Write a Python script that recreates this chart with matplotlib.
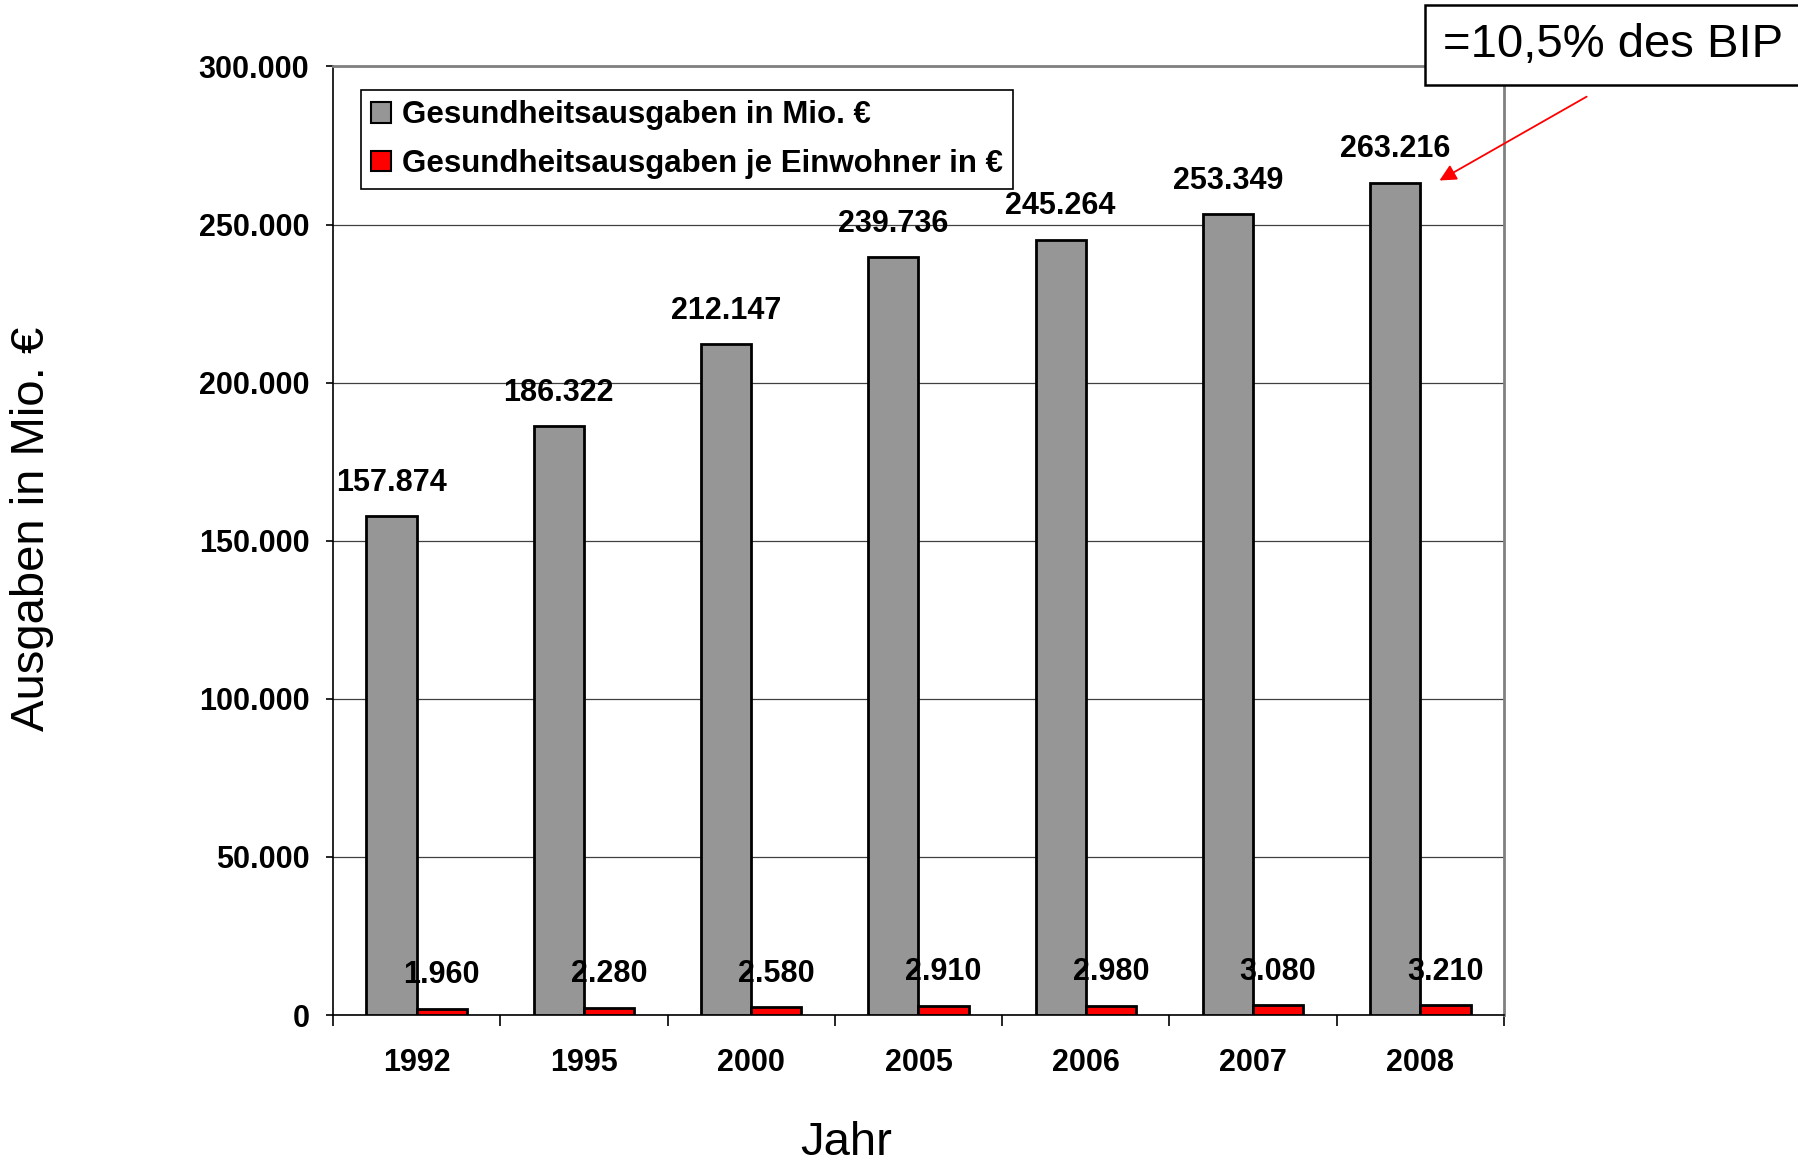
import numpy as np
import matplotlib.pyplot as plt
from matplotlib.patches import Patch

# Data
years = ['1992', '1995', '2000', '2005', '2006', '2007', '2008']
ausgaben_mio = [157874, 186322, 212147, 239736, 245264, 253349, 263216]
ausgaben_je_einwohner = [1960, 2280, 2580, 2910, 2980, 3080, 3210]
y_ticks = [0, 50000, 100000, 150000, 200000, 250000, 300000]
y_tick_labels = ['0', '50.000', '100.000', '150.000', '200.000', '250.000', '300.000']

def de_format(v):
    return f'{v:,}'.replace(',', '.')

plt.rcParams['font.family'] = ['Liberation Sans', 'DejaVu Sans']

fig = plt.figure(figsize=(17.99, 11.62), dpi=100)
ax = fig.add_axes([0.1851, 0.1265, 0.6509, 0.8163])

x = np.arange(len(years))
w = 0.3
gray = '#969696'
red = '#ff0000'

ax.bar(x - w / 2, ausgaben_mio, w, color=gray, edgecolor='black', linewidth=2, zorder=3)
ax.bar(x + w / 2, ausgaben_je_einwohner, w, color=red, edgecolor='black', linewidth=2, zorder=3)

# value labels
for xi, v in zip(x, ausgaben_mio):
    ax.annotate(de_format(v), (xi - w / 2, v), xytext=(0, 24), textcoords='offset points',
                ha='center', va='center', fontsize=22, fontweight='bold', zorder=5)
for xi, v in zip(x, ausgaben_je_einwohner):
    ax.annotate(de_format(v), (xi + w / 2, v), xytext=(0, 24), textcoords='offset points',
                ha='center', va='center', fontsize=22, fontweight='bold', zorder=5)

ax.set_xlim(-0.5, len(years) - 0.5)
ax.set_ylim(0, 300000)
ax.set_yticks(y_ticks)
ax.set_yticklabels(y_tick_labels, fontsize=22, fontweight='bold')
ax.set_xticks(x)
ax.set_xticklabels(years, fontsize=22, fontweight='bold')
ax.set_xticks(np.arange(len(years) + 1) - 0.5, minor=True)
ax.tick_params(axis='x', which='major', length=0, pad=24)
ax.tick_params(axis='x', which='minor', length=8, width=1.2, direction='out')
ax.tick_params(axis='y', length=5, width=1.2, pad=12)

ax.yaxis.grid(True, color='#404040', linewidth=0.9, zorder=0)
ax.set_axisbelow(True)
for side in ['left', 'bottom']:
    ax.spines[side].set_color('black')
    ax.spines[side].set_linewidth(1.2)
for side in ['top', 'right']:
    ax.spines[side].set_color('#808080')
    ax.spines[side].set_linewidth(2)

handles = [Patch(facecolor=gray, edgecolor='black', linewidth=1.5, label='Gesundheitsausgaben in Mio. €'),
           Patch(facecolor=red, edgecolor='black', linewidth=1.5, label='Gesundheitsausgaben je Einwohner in €')]
leg = ax.legend(handles=handles, loc='upper left', bbox_to_anchor=(0.024, 0.975),
                prop={'size': 22.5, 'weight': 'bold'}, fancybox=False, framealpha=1,
                edgecolor='black', handlelength=0.65, handleheight=0.65, handletextpad=0.35,
                borderpad=0.32, labelspacing=0.6, borderaxespad=0)
leg.get_frame().set_linewidth(1.2)

fig.text(0.018, 0.545, 'Ausgaben in Mio. €', rotation=90, ha='center', va='center', fontsize=34)
fig.text(0.4705, 0.016, 'Jahr', ha='center', va='center', fontsize=34)

# annotation box with arrow to the 2008 bar
fig.text(0.802, 0.961, '=10,5% des BIP', ha='left', va='center', fontsize=34,
         bbox=dict(boxstyle='square,pad=0.38', facecolor='white', edgecolor='black', linewidth=1.8))
ax.annotate('', xy=(6.1, 263500), xycoords='data', xytext=(0.8833, 0.918), textcoords='figure fraction',
            arrowprops=dict(arrowstyle='-|>', color=red, lw=1.3, mutation_scale=25))

fig.savefig('out.png', dpi=100)
